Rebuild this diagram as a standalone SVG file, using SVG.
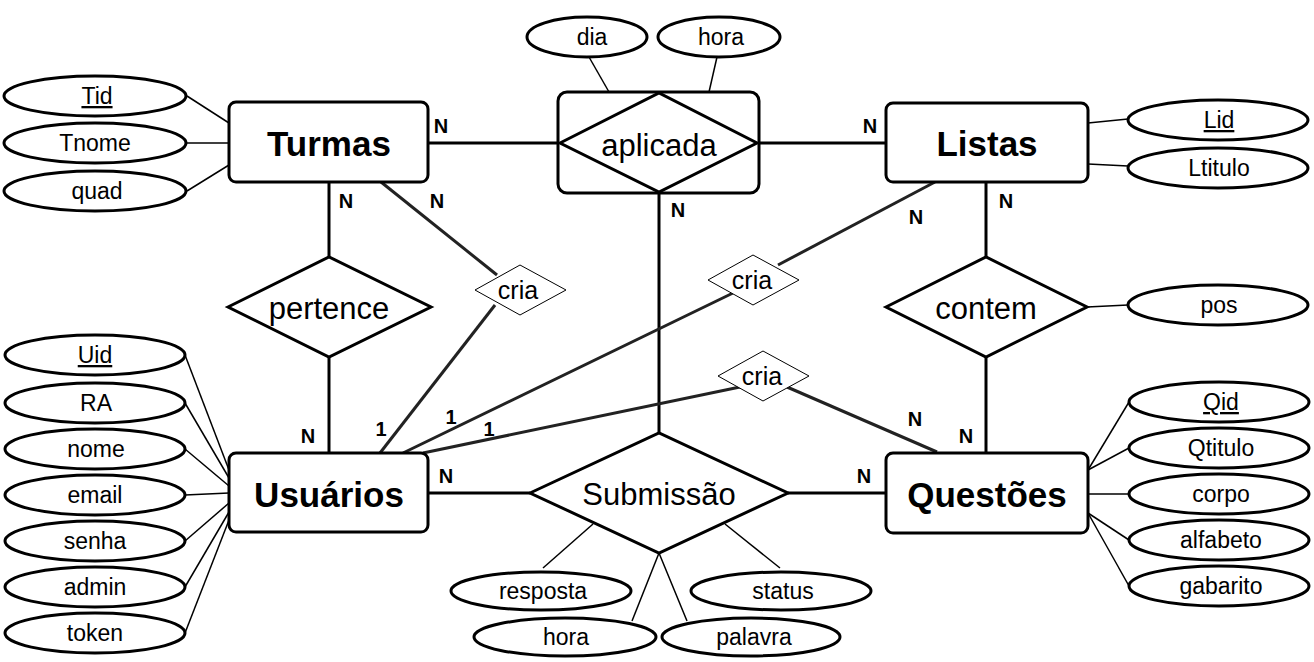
<svg xmlns="http://www.w3.org/2000/svg" width="1314" height="662" viewBox="0 0 1314 662">
<style>
.ent{fill:#fff;stroke:#000;stroke-width:3}
.rel{fill:#fff;stroke:#000;stroke-width:3}
.att{fill:#fff;stroke:#000;stroke-width:3}
.cria{fill:#fff;stroke:#000;stroke-width:1}
.c{stroke:#000;stroke-width:3;fill:none}
.cg{stroke:#222;stroke-width:3;fill:none}
.a{stroke:#000;stroke-width:1.5;fill:none}
text{font-family:"Liberation Sans",Arial,sans-serif;text-anchor:middle;fill:#000}
.et{font-size:35px;font-weight:bold}
.rt{font-size:31px}
.at{font-size:23px}
.ct{font-size:25px}
.lb{font-size:20px;font-weight:bold}
.u{text-decoration:underline}
</style>
<rect width="1314" height="662" fill="#fff"/>
<g id="connectors">
<line class="c" x1="428" y1="143" x2="560" y2="143"/>
<line class="c" x1="757" y1="143" x2="886" y2="143"/>
<line class="c" x1="329" y1="182" x2="329" y2="257"/>
<line class="c" x1="329" y1="357" x2="329" y2="453"/>
<line class="c" x1="659" y1="192" x2="659" y2="433"/>
<line class="c" x1="986" y1="182" x2="986" y2="257"/>
<line class="c" x1="986" y1="357" x2="986" y2="453"/>
<line class="c" x1="428" y1="493" x2="530" y2="493"/>
<line class="c" x1="788" y1="493" x2="886" y2="493"/>
<line class="cg" x1="381" y1="182" x2="497" y2="275"/>
<line class="cg" x1="495" y1="305" x2="380" y2="453"/>
<line class="cg" x1="935" y1="182" x2="778" y2="265"/>
<line class="cg" x1="733" y1="293" x2="403" y2="453"/>
<line class="cg" x1="423" y1="453" x2="740" y2="387"/>
<line class="cg" x1="787" y1="387" x2="937" y2="452"/>
<line class="a" x1="187" y1="96" x2="229" y2="123"/>
<line class="a" x1="187" y1="143" x2="229" y2="143"/>
<line class="a" x1="187" y1="191" x2="229" y2="165"/>
<line class="a" x1="589" y1="57" x2="609" y2="92"/>
<line class="a" x1="717" y1="57" x2="709" y2="92"/>
<line class="a" x1="1088" y1="123" x2="1128" y2="119"/>
<line class="a" x1="1088" y1="164" x2="1128" y2="166"/>
<line class="a" x1="1087" y1="307" x2="1128" y2="305"/>
<line class="a" x1="185" y1="355" x2="229" y2="470"/>
<line class="a" x1="185" y1="403" x2="229" y2="478"/>
<line class="a" x1="185" y1="449" x2="229" y2="486"/>
<line class="a" x1="185" y1="495" x2="229" y2="493"/>
<line class="a" x1="185" y1="541" x2="229" y2="503"/>
<line class="a" x1="185" y1="587" x2="229" y2="512"/>
<line class="a" x1="185" y1="633" x2="229" y2="520"/>
<line class="a" x1="1129" y1="402" x2="1088" y2="470"/>
<line class="a" x1="1129" y1="448" x2="1088" y2="470"/>
<line class="a" x1="1129" y1="494" x2="1088" y2="494"/>
<line class="a" x1="1129" y1="540" x2="1088" y2="513"/>
<line class="a" x1="1129" y1="586" x2="1088" y2="513"/>
<line class="a" x1="543" y1="568" x2="593" y2="524"/>
<line class="a" x1="780" y1="568" x2="725" y2="524"/>
<line class="a" x1="632" y1="621" x2="659" y2="553"/>
<line class="a" x1="687" y1="621" x2="659" y2="553"/>
</g>
<g id="labels">
<text class="lb" x="441" y="133">N</text>
<text class="lb" x="870" y="133">N</text>
<text class="lb" x="346" y="208">N</text>
<text class="lb" x="437" y="208">N</text>
<text class="lb" x="678" y="217">N</text>
<text class="lb" x="916" y="224">N</text>
<text class="lb" x="1006" y="208">N</text>
<text class="lb" x="308" y="443">N</text>
<text class="lb" x="381" y="436">1</text>
<text class="lb" x="451" y="424">1</text>
<text class="lb" x="489" y="436">1</text>
<text class="lb" x="446" y="483">N</text>
<text class="lb" x="864" y="483">N</text>
<text class="lb" x="915" y="426">N</text>
<text class="lb" x="966" y="443">N</text>
</g>
<g id="turmas"><rect class="ent" x="229" y="102" width="199" height="80" rx="7"/><text class="et" x="329" y="156">Turmas</text></g>
<g id="listas"><rect class="ent" x="886" y="103" width="202" height="79" rx="7"/><text class="et" x="987" y="156">Listas</text></g>
<g id="usuarios"><rect class="ent" x="229" y="453" width="199" height="79" rx="7"/><text class="et" x="329" y="507">Usuários</text></g>
<g id="questoes"><rect class="ent" x="886" y="453" width="202" height="80" rx="7"/><text class="et" x="987" y="507">Questões</text></g>
<g id="aplicada"><rect class="ent" x="558" y="92" width="201" height="101" rx="9"/><polygon class="rel" points="560,143 659,93 757,143 659,192"/><text class="rt" x="659" y="156">aplicada</text></g>
<g id="pertence"><polygon class="rel" points="228,307 329,257 431,307 329,357"/><text class="rt" x="329" y="319">pertence</text></g>
<g id="contem"><polygon class="rel" points="886,307 986,257 1087,307 986,357"/><text class="rt" x="986" y="319">contem</text></g>
<g id="submissao"><polygon class="rel" points="530,493 659,433 788,493 659,553"/><text class="rt" x="659" y="505">Submissão</text></g>
<g id="cria1"><polygon class="cria" points="475,290 520,265 566,290 520,315"/><text class="ct" x="518" y="299">cria</text></g>
<g id="cria2"><polygon class="cria" points="708,280 753,255 799,280 753,305"/><text class="ct" x="752" y="289">cria</text></g>
<g id="cria3"><polygon class="cria" points="718,376 763,351 809,376 763,401"/><text class="ct" x="762" y="385">cria</text></g>
<g id="tid"><ellipse class="att" cx="95" cy="96" rx="91" ry="20"/><text class="at u" x="97" y="104">Tid</text></g>
<g id="tnome"><ellipse class="att" cx="95" cy="143" rx="91" ry="20"/><text class="at" x="95" y="151">Tnome</text></g>
<g id="quad"><ellipse class="att" cx="95" cy="191" rx="91" ry="20"/><text class="at" x="97" y="199">quad</text></g>
<g id="dia"><ellipse class="att" cx="587" cy="37" rx="60" ry="20"/><text class="at" x="592" y="45">dia</text></g>
<g id="hora1"><ellipse class="att" cx="719" cy="37" rx="61" ry="20"/><text class="at" x="721" y="45">hora</text></g>
<g id="lid"><ellipse class="att" cx="1218" cy="120" rx="90" ry="20"/><text class="at u" x="1219" y="128">Lid</text></g>
<g id="ltitulo"><ellipse class="att" cx="1218" cy="168" rx="90" ry="20"/><text class="at" x="1219" y="176">Ltitulo</text></g>
<g id="pos"><ellipse class="att" cx="1218" cy="305" rx="90" ry="20"/><text class="at" x="1219" y="313">pos</text></g>
<g id="uid"><ellipse class="att" cx="95" cy="355" rx="90" ry="20"/><text class="at u" x="95" y="363">Uid</text></g>
<g id="ra"><ellipse class="att" cx="95" cy="403" rx="90" ry="20"/><text class="at" x="96" y="411">RA</text></g>
<g id="nome"><ellipse class="att" cx="95" cy="449" rx="90" ry="20"/><text class="at" x="96" y="457">nome</text></g>
<g id="email"><ellipse class="att" cx="95" cy="495" rx="90" ry="20"/><text class="at" x="95" y="503">email</text></g>
<g id="senha"><ellipse class="att" cx="95" cy="541" rx="90" ry="20"/><text class="at" x="95" y="549">senha</text></g>
<g id="admin"><ellipse class="att" cx="95" cy="587" rx="90" ry="20"/><text class="at" x="95" y="595">admin</text></g>
<g id="token"><ellipse class="att" cx="95" cy="633" rx="90" ry="20"/><text class="at" x="95" y="641">token</text></g>
<g id="qid"><ellipse class="att" cx="1219" cy="402" rx="90" ry="20"/><text class="at u" x="1221" y="410">Qid</text></g>
<g id="qtitulo"><ellipse class="att" cx="1219" cy="448" rx="90" ry="20"/><text class="at" x="1221" y="456">Qtitulo</text></g>
<g id="corpo"><ellipse class="att" cx="1219" cy="494" rx="90" ry="20"/><text class="at" x="1221" y="502">corpo</text></g>
<g id="alfabeto"><ellipse class="att" cx="1219" cy="540" rx="90" ry="20"/><text class="at" x="1221" y="548">alfabeto</text></g>
<g id="gabarito"><ellipse class="att" cx="1219" cy="586" rx="90" ry="20"/><text class="at" x="1221" y="594">gabarito</text></g>
<g id="resposta"><ellipse class="att" cx="541" cy="591" rx="90" ry="19"/><text class="at" x="543" y="599">resposta</text></g>
<g id="status"><ellipse class="att" cx="781" cy="591" rx="90" ry="19"/><text class="at" x="783" y="599">status</text></g>
<g id="hora2"><ellipse class="att" cx="565" cy="637" rx="91" ry="19"/><text class="at" x="566" y="645">hora</text></g>
<g id="palavra"><ellipse class="att" cx="751" cy="637" rx="89" ry="19"/><text class="at" x="754" y="645">palavra</text></g>
</svg>
